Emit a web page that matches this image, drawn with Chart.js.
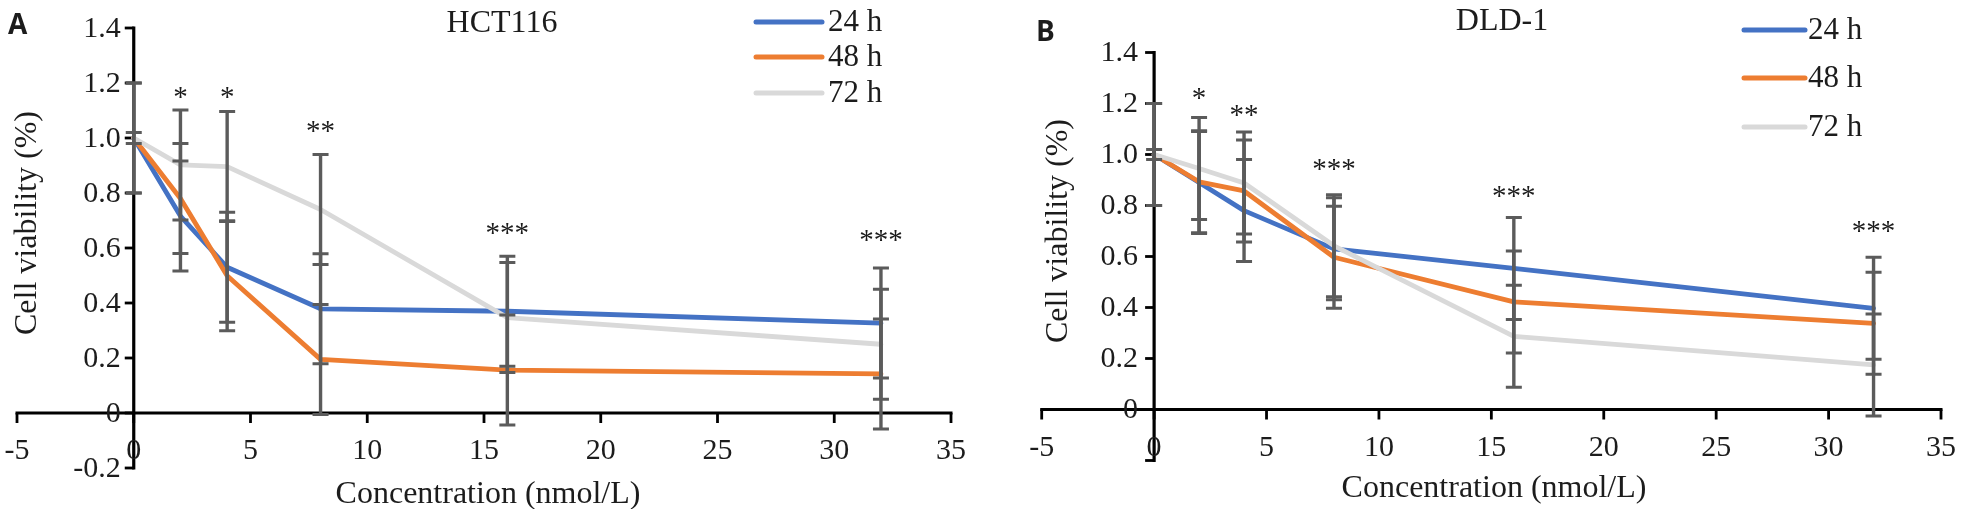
<!DOCTYPE html>
<html><head><meta charset="utf-8">
<script src="https://cdn.jsdelivr.net/npm/chart.js@4"></script>
<style>
html,body{margin:0;padding:0;background:#fff;overflow:hidden}
#wrap{position:relative;width:1963px;height:509px;background:#fff}
.pane{position:absolute;top:0;height:509px}
</style></head><body>
<div id="wrap">
<div class="pane" style="left:0;width:981px"><canvas id="cA"></canvas></div>
<div class="pane" style="left:981px;width:982px"><canvas id="cB"></canvas></div>
</div>
<script>
// ---------- data ----------
const concentrations = [0, 2, 4, 8, 16, 32];
const seriesLabels = ['24 h', '48 h', '72 h'];

const hct116_24h = [1.00, 0.716, 0.530, 0.379, 0.370, 0.327];
const hct116_48h = [1.00, 0.780, 0.499, 0.195, 0.156, 0.142];
const hct116_72h = [1.00, 0.902, 0.896, 0.740, 0.347, 0.250];
const hct116_24h_err = [0.20, 0.20, 0.20, 0.20, 0.20, 0.20];
const hct116_48h_err = [0.02, 0.20, 0.20, 0.20, 0.20, 0.20];
const hct116_72h_err = [0.20, 0.20, 0.20, 0.20, 0.20, 0.20];
const hct116_stars = ['*', '*', '**', '***', '***'];
const hct116_starX = [2, 4, 8, 16, 32];
const hct116_starY = [1.164, 1.164, 1.041, 0.672, 0.647];

const dld1_24h = [1.00, 0.890, 0.780, 0.630, 0.553, 0.397];
const dld1_48h = [1.00, 0.893, 0.857, 0.597, 0.422, 0.338];
const dld1_72h = [1.00, 0.945, 0.888, 0.642, 0.287, 0.175];
const dld1_24h_err = [0.20, 0.20, 0.20, 0.20, 0.20, 0.20];
const dld1_48h_err = [0.02, 0.20, 0.20, 0.20, 0.20, 0.20];
const dld1_72h_err = [0.20, 0.20, 0.20, 0.20, 0.20, 0.20];
const dld1_stars = ['*', '**', '***', '***', '***'];
const dld1_starX = [2, 4, 8, 16, 32];
const dld1_starY = [1.240, 1.174, 0.959, 0.854, 0.717];

const xTickValues = [-5, 0, 5, 10, 15, 20, 25, 30, 35];
const xTickLabels = ['-5', '0', '5', '10', '15', '20', '25', '30', '35'];
const yTickValues = [-0.2, 0, 0.2, 0.4, 0.6, 0.8, 1.0, 1.2, 1.4];
const yTickLabelsA = ['-0.2', '0', '0.2', '0.4', '0.6', '0.8', '1.0', '1.2', '1.4'];
const yTickLabelsB = ['', '0', '0.2', '0.4', '0.6', '0.8', '1.0', '1.2', '1.4'];

// ---------- styles ----------
const seriesColors = ['#4472C4', '#ED7D31', '#D9D9D9'];
const SERIF = "'Liberation Serif', 'Times New Roman', serif";
const TEXT = '#1c1c1c';

const decor = {
  id: 'decor',
  beforeDatasetsDraw(chart, args, o) {
    const ctx = chart.ctx, xs = chart.scales.x, ys = chart.scales.y;
    const x0 = xs.getPixelForValue(0), y0 = ys.getPixelForValue(0);
    ctx.save();
    ctx.strokeStyle = '#000';
    ctx.lineWidth = 3.2;
    ctx.lineCap = 'butt';
    const yTop = ys.getPixelForValue(yTickValues[yTickValues.length - 1]);
    const yBot = ys.getPixelForValue(yTickValues[0]);
    ctx.beginPath(); ctx.moveTo(x0, yTop - 1.5); ctx.lineTo(x0, yBot + 1.5); ctx.stroke();
    const xL = xs.getPixelForValue(xTickValues[0]);
    const xR = xs.getPixelForValue(xTickValues[xTickValues.length - 1]);
    ctx.beginPath(); ctx.moveTo(xL - 1.5, y0); ctx.lineTo(xR + 1.5, y0); ctx.stroke();
    ctx.lineWidth = 2.8;
    yTickValues.forEach(v => {
      const y = ys.getPixelForValue(v);
      ctx.beginPath(); ctx.moveTo(x0 - 9, y); ctx.lineTo(x0, y); ctx.stroke();
    });
    xTickValues.forEach(v => {
      const x = xs.getPixelForValue(v);
      ctx.beginPath(); ctx.moveTo(x, y0); ctx.lineTo(x, y0 + 10); ctx.stroke();
    });
    ctx.restore();
  },
  afterDatasetsDraw(chart, args, o) {
    const ctx = chart.ctx, xs = chart.scales.x, ys = chart.scales.y;
    ctx.save();
    ctx.strokeStyle = '#5b5b5b';
    chart.data.datasets.forEach(ds => {
      ds.data.forEach((p, j) => {
        const e = ds.errors[j];
        const x = xs.getPixelForValue(p.x);
        const yt = ys.getPixelForValue(p.y + e), yb = ys.getPixelForValue(p.y - e);
        ctx.lineWidth = 3.4;
        ctx.beginPath(); ctx.moveTo(x, yt); ctx.lineTo(x, yb); ctx.stroke();
        ctx.lineWidth = 3;
        ctx.beginPath();
        ctx.moveTo(x - 8, yt); ctx.lineTo(x + 8, yt);
        ctx.moveTo(x - 8, yb); ctx.lineTo(x + 8, yb);
        ctx.stroke();
      });
    });
    ctx.restore();
  },
  afterDraw(chart, args, o) {
    const ctx = chart.ctx, xs = chart.scales.x, ys = chart.scales.y;
    const x0 = xs.getPixelForValue(0), y0 = ys.getPixelForValue(0);
    ctx.save();
    ctx.fillStyle = TEXT;
    // y tick labels
    ctx.font = '30px ' + SERIF;
    ctx.textAlign = 'right'; ctx.textBaseline = 'middle';
    yTickValues.forEach((v, i) => {
      ctx.fillText(o.yLabels[i], x0 - o.yLabelGap, ys.getPixelForValue(v) + 1);
    });
    // x tick labels
    ctx.textAlign = 'center'; ctx.textBaseline = 'alphabetic';
    xTickValues.forEach((v, i) => {
      ctx.fillText(xTickLabels[i], xs.getPixelForValue(v), y0 + o.xLabelOffset);
    });
    // stars
    ctx.font = '29px ' + SERIF;
    o.stars.forEach((s, i) => {
      ctx.fillText(s, xs.getPixelForValue(o.starX[i]), ys.getPixelForValue(o.starY[i]) + 13.5);
    });
    // axis titles
    ctx.font = '32px ' + SERIF;
    ctx.fillText('Concentration (nmol/L)', o.xTitle[0], o.xTitle[1]);
    ctx.save();
    ctx.translate(o.yTitle[0], o.yTitle[1]);
    ctx.rotate(-Math.PI / 2);
    ctx.textBaseline = 'middle';
    ctx.fillText('Cell viability (%)', 0, 0);
    ctx.restore();
    // chart title
    ctx.font = '32px ' + SERIF;
    ctx.textAlign = 'center'; ctx.textBaseline = 'alphabetic';
    ctx.fillText(o.title, o.titlePos[0], o.titlePos[1]);
    // panel letter
    ctx.font = "bold 28px 'Open Sans', 'Noto Sans', Arial, sans-serif";
    ctx.textAlign = 'left';
    ctx.fillText(o.letter, o.letterPos[0], o.letterPos[1]);
    // legend
    chart.data.datasets.forEach((ds, i) => {
      const y = o.legendRows[i];
      ctx.strokeStyle = ds.borderColor;
      ctx.lineWidth = 5; ctx.lineCap = 'round';
      ctx.beginPath(); ctx.moveTo(o.legendLine[0], y); ctx.lineTo(o.legendLine[1], y); ctx.stroke();
      ctx.font = '31px ' + SERIF;
      ctx.textAlign = 'left'; ctx.textBaseline = 'middle';
      ctx.fillStyle = TEXT;
      ctx.fillText(ds.label, o.legendText, y + 1);
    });
    ctx.restore();
  }
};

function makeChart(id, series, errors, cfg) {
  return new Chart(document.getElementById(id), {
    type: 'line',
    data: {
      datasets: series.map((vals, i) => ({
        label: seriesLabels[i],
        data: concentrations.map((c, j) => ({ x: c, y: vals[j] })),
        errors: errors[i],
        borderColor: seriesColors[i],
        backgroundColor: seriesColors[i],
        borderWidth: 4.8,
        pointRadius: 0,
        tension: 0,
        borderJoinStyle: 'round',
        borderCapStyle: 'round',
        order: 3 - i
      }))
    },
    options: {
      responsive: true,
      maintainAspectRatio: false,
      animation: false,
      layout: { padding: cfg.padding },
      scales: {
        x: { type: 'linear', min: xTickValues[0], max: xTickValues[xTickValues.length - 1], display: false },
        y: { type: 'linear', min: yTickValues[0], max: yTickValues[yTickValues.length - 1], display: false }
      },
      plugins: {
        legend: { display: false },
        tooltip: { enabled: false },
        decor: cfg
      }
    },
    plugins: [decor]
  });
}

makeChart('cA', [hct116_24h, hct116_48h, hct116_72h], [hct116_24h_err, hct116_48h_err, hct116_72h_err], {
  padding: { left: 17, right: 30, top: 28, bottom: 41 },
  yLabels: yTickLabelsA, yLabelGap: 13, xLabelOffset: 46,
  stars: hct116_stars, starX: hct116_starX, starY: hct116_starY,
  xTitle: [488, 503], yTitle: [28, 223],
  title: 'HCT116', titlePos: [502, 32],
  letter: 'A', letterPos: [8, 34],
  legendRows: [22, 57, 93], legendLine: [756, 822], legendText: 828
});

makeChart('cB', [dld1_24h, dld1_48h, dld1_72h], [dld1_24h_err, dld1_48h_err, dld1_72h_err], {
  padding: { left: 60.7, right: 22, top: 52.5, bottom: 48.5 },
  yLabels: yTickLabelsB, yLabelGap: 16, xLabelOffset: 46,
  stars: dld1_stars, starX: dld1_starX, starY: dld1_starY,
  xTitle: [513, 497], yTitle: [78, 231],
  title: 'DLD-1', titlePos: [521, 30],
  letter: 'B', letterPos: [55, 41],
  legendRows: [30, 78, 127], legendLine: [763, 824], legendText: 827
});
</script>
</body></html>
